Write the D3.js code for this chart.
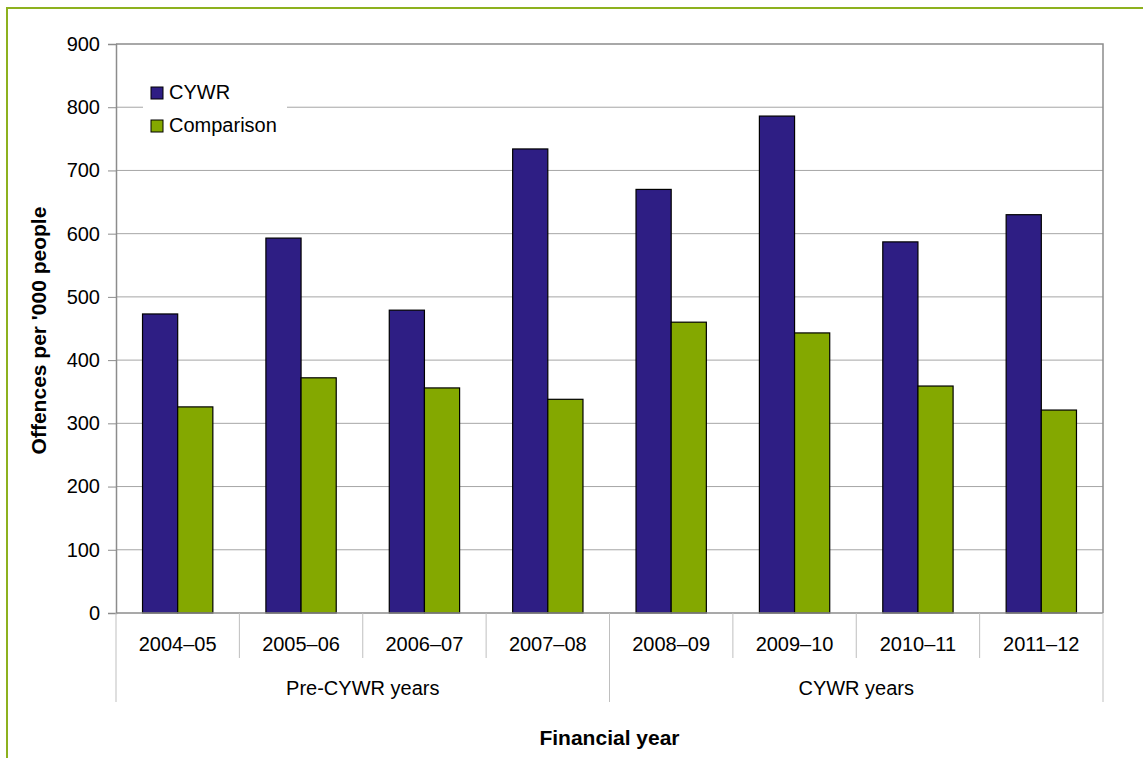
<!DOCTYPE html>
<html>
<head>
<meta charset="utf-8">
<script src="https://cdn.jsdelivr.net/npm/d3@7.9.0/dist/d3.min.js"></script>
<style>
  body { margin: 0; background: #fff; }
  svg text { font-family: "Liberation Sans", Arial, sans-serif; fill: #000; }
</style>
</head>
<body>
<div id="chart"></div>
<script>
// Chart data
const years = ["2004–05", "2005–06", "2006–07", "2007–08", "2008–09", "2009–10", "2010–11", "2011–12"];
const groups = [
  { label: "Pre-CYWR years", from: 0, to: 3 },
  { label: "CYWR years", from: 4, to: 7 }
];
const seriesNames = ["CYWR", "Comparison"];
const cywr = [473, 593, 479, 734, 670, 786, 587, 630];
const comparison = [326, 372, 356, 338, 460, 443, 359, 321];
const yTicks = [0, 100, 200, 300, 400, 500, 600, 700, 800, 900];

const colors = { CYWR: "#2e1e84", Comparison: "#84a800" };

const width = 1143, height = 758;
const plot = { left: 116, right: 1103, top: 44, bottom: 613 };
const fontSize = "20px";

const svg = d3.select("#chart").append("svg")
  .attr("width", width).attr("height", height);

// green frame
svg.append("path")
  .attr("d", `M7,${height} L7,8 L${width},8`)
  .attr("fill", "none").attr("stroke", "#8db11e").attr("stroke-width", 2);

// scales
const x = d3.scaleBand().domain(years)
  .range([plot.left, plot.right])
  .paddingInner(0.43).paddingOuter(0.215);
const step = (plot.right - plot.left) / years.length;
const xs = d3.scaleBand().domain(seriesNames).range([0, x.bandwidth()]);
const y = d3.scaleLinear().domain([0, 900]).range([plot.bottom, plot.top]);

// gridlines
svg.append("g")
  .selectAll("line")
  .data(yTicks.filter(d => d > 0 && d < 900))
  .join("line")
  .attr("x1", plot.left).attr("x2", plot.right)
  .attr("y1", d => y(d)).attr("y2", d => y(d))
  .attr("stroke", "#a6a6a6").attr("stroke-width", 1);

// plot area border (top + right)
svg.append("path")
  .attr("d", `M${plot.left},${plot.top} L${plot.right},${plot.top} L${plot.right},${plot.bottom}`)
  .attr("fill", "none").attr("stroke", "#8c8c8c").attr("stroke-width", 1.5);

// bars
const rows = years.map((yr, i) => ({ year: yr, CYWR: cywr[i], Comparison: comparison[i] }));
svg.append("g")
  .selectAll("g")
  .data(rows)
  .join("g")
  .attr("transform", d => `translate(${x(d.year)},0)`)
  .selectAll("rect")
  .data(d => seriesNames.map(s => ({ s, v: d[s] })))
  .join("rect")
  .attr("x", d => xs(d.s))
  .attr("y", d => y(d.v))
  .attr("width", xs.bandwidth())
  .attr("height", d => y(0) - y(d.v))
  .attr("fill", d => colors[d.s])
  .attr("stroke", "#000").attr("stroke-width", 1.2);

// y axis
const yAxis = svg.append("g")
  .attr("transform", `translate(${plot.left},0)`)
  .call(d3.axisLeft(y).tickValues(yTicks).tickSize(8).tickPadding(8));
yAxis.select(".domain").attr("stroke", "#8c8c8c").attr("stroke-width", 1.5);
yAxis.selectAll(".tick line").attr("stroke", "#8c8c8c");
yAxis.selectAll(".tick text")
  .style("font-size", fontSize).style("font-family", "'Liberation Sans', Arial, sans-serif");

// x axis baseline
svg.append("line")
  .attr("x1", plot.left).attr("x2", plot.right)
  .attr("y1", plot.bottom).attr("y2", plot.bottom)
  .attr("stroke", "#8c8c8c").attr("stroke-width", 1.5);

// category dividers
const edges = d3.range(years.length + 1).map(i => plot.left + i * step);
const groupEdges = [0, 4, 8];
svg.append("g")
  .selectAll("line")
  .data(d3.range(years.length + 1))
  .join("line")
  .attr("x1", i => edges[i]).attr("x2", i => edges[i])
  .attr("y1", plot.bottom)
  .attr("y2", i => groupEdges.includes(i) ? 702 : 658)
  .attr("stroke", "#bfbfbf").attr("stroke-width", 1);

// category labels
svg.append("g")
  .selectAll("text")
  .data(years)
  .join("text")
  .attr("x", d => x(d) + x.bandwidth() / 2)
  .attr("y", 651)
  .attr("text-anchor", "middle")
  .style("font-size", fontSize)
  .text(d => d);

// group labels
svg.append("g")
  .selectAll("text")
  .data(groups)
  .join("text")
  .attr("x", d => (edges[d.from] + edges[d.to + 1]) / 2)
  .attr("y", 695)
  .attr("text-anchor", "middle")
  .style("font-size", fontSize)
  .text(d => d.label);

// axis titles
svg.append("text")
  .attr("x", (plot.left + plot.right) / 2)
  .attr("y", 745)
  .attr("text-anchor", "middle")
  .style("font-size", "21px").style("font-weight", "bold")
  .text("Financial year");

svg.append("text")
  .attr("transform", `translate(46,${(plot.top + plot.bottom) / 2 + 2}) rotate(-90)`)
  .attr("text-anchor", "middle")
  .style("font-size", "21px").style("font-weight", "bold")
  .text("Offences per '000 people");

// legend
const legend = svg.append("g").attr("transform", "translate(143,74)");
legend.append("rect")
  .attr("width", 144).attr("height", 68)
  .attr("fill", "#fff");
legend.selectAll("g")
  .data(seriesNames)
  .join("g")
  .attr("transform", (d, i) => `translate(8,${13 + i * 33})`)
  .call(g => {
    g.append("rect")
      .attr("width", 12).attr("height", 12)
      .attr("fill", d => colors[d])
      .attr("stroke", "#000").attr("stroke-width", 1);
    g.append("text")
      .attr("x", 18).attr("y", 12)
      .style("font-size", fontSize)
      .text(d => d);
  });
</script>
</body>
</html>
